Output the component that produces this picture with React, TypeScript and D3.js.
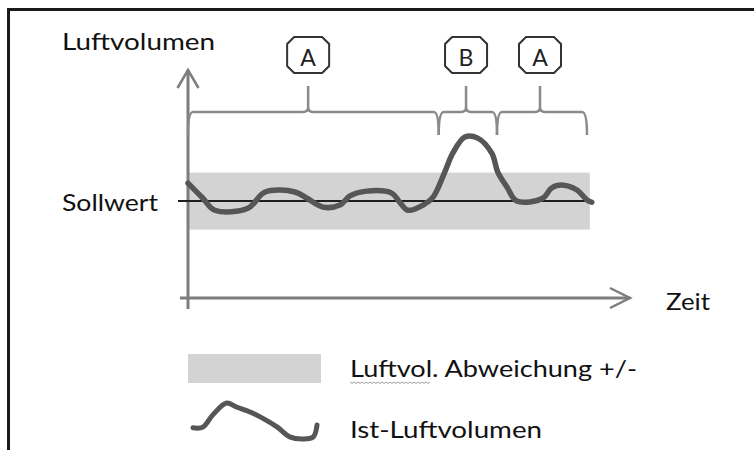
import React from "react";
import * as d3 from "d3";

// ---- data (time units 0..110, volume relative to Sollwert, band = ±1) ----
const timeValues = [0, 3.7, 6.7, 14.9, 19.2, 26.6, 29.6, 33.6, 37.8, 40.3, 44.5, 50.7, 52.7, 54.7, 58.5, 61, 63.9, 65.9, 68.9, 72.1, 75.6, 77.1, 79.4, 81.8, 88.3, 90.5, 93.3, 96.8, 99.3, 100.5];
const volumeValues = [0.63, 0.1, -0.32, -0.25, 0.32, 0.32, 0.1, -0.21, -0.14, 0.18, 0.35, 0.28, -0.04, -0.32, -0.14, 0.14, 1.02, 1.68, 2.25, 2.21, 1.68, 1.02, 0.49, 0.0, 0.1, 0.46, 0.56, 0.39, 0.04, -0.04];
const bandRange = [-1, 1];
const bandTime = [0, 100];
const setpoint = 0;
const setpointTime = [-2.5, 100.5];
const phaseLabels = ["A", "B", "A"];
const phaseStarts = [0, 62.4, 76.9];
const phaseEnds = [62.4, 76.9, 99.3];
const phaseCenters = [29.9, 69.2, 87.6];
const legendLabels = ["Luftvol. Abweichung +/-", "Ist-Luftvolumen"];
const legendGlyphX = [0, 0.08, 0.16, 0.27, 0.35, 0.46, 0.56, 0.68, 0.78, 0.89, 0.97, 1.0];
const legendGlyphY = [0.31, 0.33, 0.67, 1, 0.89, 0.75, 0.58, 0.33, 0.06, 0, 0.06, 0.39];

const FONT = "Lato, 'Open Sans', sans-serif";

export default function App() {
  const W = 754, H = 450;
  const x = d3.scaleLinear().domain([0, 110]).range([188, 630]);
  const y = d3.scaleLinear().domain([-3.4, 4.6]).range([298, 70]);

  const pts = timeValues.map((t, i) => [t, volumeValues[i]] as [number, number]);
  const line = d3.line<[number, number]>().x(d => x(d[0])).y(d => y(d[1])).curve(d3.curveCatmullRom.alpha(0.5));

  const gx = d3.scaleLinear().domain([0, 1]).range([193, 317]);
  const gy = d3.scaleLinear().domain([0, 1]).range([439, 403]);
  const gpts = legendGlyphX.map((v, i) => [v, legendGlyphY[i]] as [number, number]);
  const gline = d3.line<[number, number]>().x(d => gx(d[0])).y(d => gy(d[1])).curve(d3.curveCatmullRom.alpha(0.5));

  const yh = 112, yb = 135, yTop = 86, r = 5;
  const bracePath = (x0: number, x1: number, c: number) =>
    `M${x0},${yb} Q${x0},${yh} ${x0 + r},${yh} L${c - r},${yh} Q${c},${yh} ${c},${yh - r} L${c},${yTop} ` +
    `M${c},${yh - r} Q${c},${yh} ${c + r},${yh} L${x1 - r},${yh} Q${x1},${yh} ${x1},${yb}`;

  const boxPath = (cx: number) => {
    const w = 42, h = 36, k = 7, t = 37;
    const l = cx - w / 2, rr = cx + w / 2, b = t + h;
    return `M${l + k},${t} L${rr - k},${t} L${rr},${t + k} L${rr},${b - k} L${rr - k},${b} L${l + k},${b} L${l},${b - k} L${l},${t + k} Z`;
  };

  // wavy underline under "Luftvol"
  const wave: string[] = [];
  for (let i = 0; i <= 40; i++) {
    const xx = 350 + i * 2;
    const yy = 382 + (i % 2 === 0 ? 0 : 1.5);
    wave.push(`${i === 0 ? "M" : "L"}${xx},${yy}`);
  }

  const axisColor = "#7d7d7d";
  return (
    <svg width={W} height={H} style={{ position: "absolute", left: 0, top: 0, background: "#fff" }}>
      <rect x={0} y={0} width={W} height={H} fill="#fff" />
      {/* frame */}
      <path d={`M8.5,${H} L8.5,9.5 L${W},9.5`} fill="none" stroke="#1a1a1a" strokeWidth={3} />

      {/* band */}
      <rect x={x(bandTime[0])} y={y(bandRange[1])} width={x(bandTime[1]) - x(bandTime[0])} height={y(bandRange[0]) - y(bandRange[1])} fill="#d3d3d3" />

      {/* axes */}
      <line x1={x(0)} x2={x(0)} y1={309} y2={y(4.6)} stroke={axisColor} strokeWidth={3} />
      <path d={`M${x(0) - 10.5},88 L${x(0)},${y(4.6)} L${x(0) + 10.5},88`} fill="none" stroke={axisColor} strokeWidth={2.5} />
      <line x1={180} x2={x(110)} y1={y(-3.4)} y2={y(-3.4)} stroke={axisColor} strokeWidth={3} />
      <path d={`M${x(110) - 20},${y(-3.4) - 10} L${x(110)},${y(-3.4)} L${x(110) - 20},${y(-3.4) + 10}`} fill="none" stroke={axisColor} strokeWidth={2.5} />

      {/* setpoint */}
      <line x1={x(setpointTime[0])} x2={x(setpointTime[1])} y1={y(setpoint)} y2={y(setpoint)} stroke="#1e1e1e" strokeWidth={2} />

      {/* actual curve */}
      <path d={line(pts) || ""} fill="none" stroke="#565656" strokeWidth={5.5} strokeLinejoin="round" strokeLinecap="round" />

      {/* braces + boxes */}
      {phaseLabels.map((lab, i) => (
        <g key={i}>
          <path d={bracePath(x(phaseStarts[i]), x(phaseEnds[i]), x(phaseCenters[i]))} fill="none" stroke="#8a8a8a" strokeWidth={2.5} />
          <path d={boxPath(x(phaseCenters[i]))} fill="#fff" stroke="#333" strokeWidth={2} />
          <text x={x(phaseCenters[i])} y={66} textAnchor="middle" fontFamily={FONT} fontSize={23} fill="#222">{lab}</text>
        </g>
      ))}

      {/* labels */}
      <text x={62} y={50} fontFamily={FONT} fontSize={24} fill="#111" textLength={153} lengthAdjust="spacingAndGlyphs">Luftvolumen</text>
      <text x={62} y={211} fontFamily={FONT} fontSize={24} fill="#111" textLength={96} lengthAdjust="spacingAndGlyphs">Sollwert</text>
      <text x={666} y={310} fontFamily={FONT} fontSize={24} fill="#111" textLength={44} lengthAdjust="spacingAndGlyphs">Zeit</text>

      {/* legend */}
      <rect x={188} y={354} width={133} height={29} fill="#d3d3d3" />
      <text x={350} y={377} fontFamily={FONT} fontSize={24} fill="#111" textLength={287} lengthAdjust="spacingAndGlyphs">{legendLabels[0]}</text>
      <path d={wave.join(" ")} fill="none" stroke="#a0a0a0" strokeWidth={1} />
      <path d={gline(gpts) || ""} fill="none" stroke="#565656" strokeWidth={5} strokeLinejoin="round" strokeLinecap="round" />
      <text x={350} y={438} fontFamily={FONT} fontSize={24} fill="#111" textLength={192} lengthAdjust="spacingAndGlyphs">{legendLabels[1]}</text>
    </svg>
  );
}
